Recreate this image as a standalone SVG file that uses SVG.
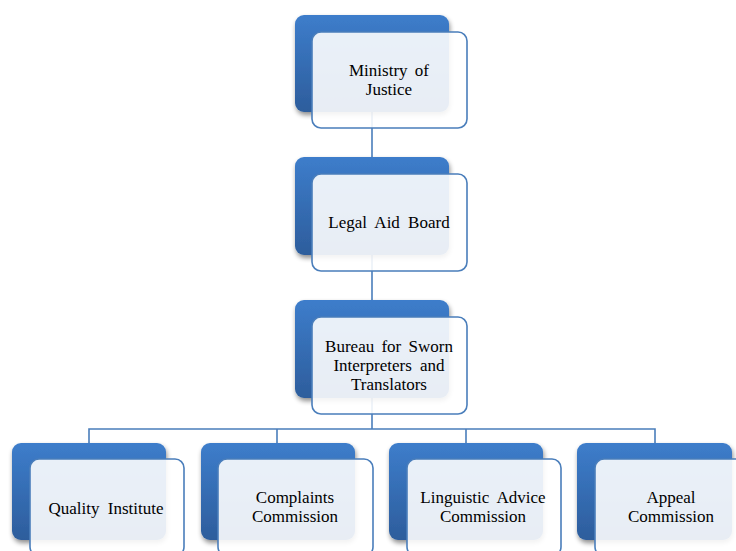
<svg xmlns="http://www.w3.org/2000/svg" width="736" height="551" viewBox="0 0 736 551">
<defs>
<linearGradient id="blueGrad" x1="0" y1="0" x2="0" y2="1">
<stop offset="0" stop-color="#3D7DCB"/>
<stop offset="1" stop-color="#2D5D9C"/>
</linearGradient>
<filter id="shadow" x="-10%" y="-10%" width="125%" height="130%">
<feGaussianBlur in="SourceAlpha" stdDeviation="2.5"/>
<feOffset dx="1" dy="3" result="b"/>
<feComponentTransfer><feFuncA type="linear" slope="0.45"/></feComponentTransfer>
<feMerge><feMergeNode/><feMergeNode in="SourceGraphic"/></feMerge>
</filter>
<style>
.back{fill:url(#blueGrad);filter:url(#shadow);}
.front{fill:#ffffff;fill-opacity:0.89;stroke:#4A7EBB;stroke-width:1.6;}
.conn{fill:none;stroke:#4A7EBB;stroke-width:1.6;}
.lbl{font-family:"Liberation Serif","Times New Roman",serif;font-size:17px;fill:#000000;text-anchor:middle;}
</style>
</defs>
<rect width="736" height="551" fill="#ffffff"/>
<g id="connectors">
<path class="conn" d="M372 112 V157"/>
<path class="conn" d="M372 255 V300"/>
<path class="conn" d="M372 398 V429"/>
<path class="conn" d="M89 443 V429 H655 V443"/>
<path class="conn" d="M277 429 V443"/>
<path class="conn" d="M466 429 V443"/>
</g>
<g id="node-ministry">
<rect class="back" x="295" y="15" width="154" height="97" rx="9"/>
<rect class="front" x="312" y="32" width="155" height="96" rx="9"/>
<text class="lbl" x="389" y="76" word-spacing="3">Ministry of</text>
<text class="lbl" x="389" y="95">Justice</text>
</g>
<g id="node-legal-aid">
<rect class="back" x="295" y="157" width="154" height="98" rx="9"/>
<rect class="front" x="312" y="174" width="155" height="97" rx="9"/>
<text class="lbl" x="389" y="228" word-spacing="4">Legal Aid Board</text>
</g>
<g id="node-bureau">
<rect class="back" x="295" y="300" width="154" height="98" rx="9"/>
<rect class="front" x="312" y="317" width="155" height="97" rx="9"/>
<text class="lbl" x="389" y="351.5" word-spacing="3">Bureau for Sworn</text>
<text class="lbl" x="389" y="370.5" word-spacing="4">Interpreters and</text>
<text class="lbl" x="389" y="389.5">Translators</text>
</g>
<g id="node-quality">
<rect class="back" x="12" y="443" width="154" height="97" rx="9"/>
<rect class="front" x="30" y="459" width="154" height="97" rx="9"/>
<text class="lbl" x="106" y="514" word-spacing="4">Quality Institute</text>
</g>
<g id="node-complaints">
<rect class="back" x="201" y="443" width="154" height="97" rx="9"/>
<rect class="front" x="218" y="459" width="155" height="97" rx="9"/>
<text class="lbl" x="295" y="503">Complaints</text>
<text class="lbl" x="295" y="522">Commission</text>
</g>
<g id="node-linguistic">
<rect class="back" x="389" y="443" width="154" height="97" rx="9"/>
<rect class="front" x="407" y="459" width="154" height="97" rx="9"/>
<text class="lbl" x="483" y="503" word-spacing="4">Linguistic Advice</text>
<text class="lbl" x="483" y="522">Commission</text>
</g>
<g id="node-appeal">
<rect class="back" x="577" y="443" width="155" height="97" rx="9"/>
<rect class="front" x="595" y="459" width="155" height="97" rx="9"/>
<text class="lbl" x="671" y="503">Appeal</text>
<text class="lbl" x="671" y="522">Commission</text>
</g>
</svg>
